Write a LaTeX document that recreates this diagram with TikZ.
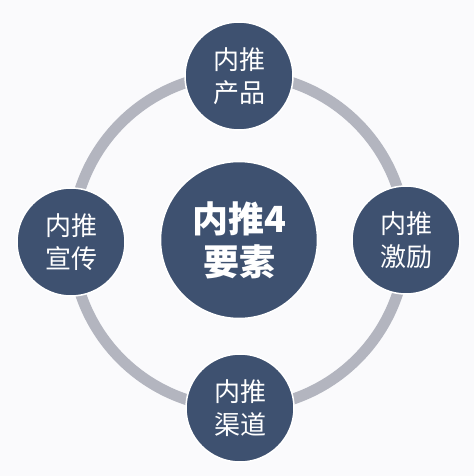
\documentclass[tikz,border=0pt]{standalone}
\usepackage{fontspec}
\newfontfamily\cjk{Noto Sans CJK SC}
\definecolor{bgcol}{HTML}{FAFAFC}
\definecolor{ringcol}{HTML}{B3B5BF}
\definecolor{navy}{HTML}{3E5170}
\tikzset{
	hub/.style={circle, fill=navy, draw=white, line width=1.5pt, minimum size=157pt, inner sep=0pt, align=center, text=white, font=\cjk\bfseries\fontsize{36}{43}\selectfont},
	spoke/.style={circle, fill=navy, draw=white, line width=1.5pt, minimum size=108pt, inner sep=0pt, align=center, text=white, font=\cjk\fontsize{26}{33}\selectfont}
}
\begin{document}
\begin{tikzpicture}[x=1pt, y=-1pt]
		%%%%% START %%%%%
		
		\fill[bgcol] (0, 0) rectangle (474, 476);
		\useasboundingbox (0, 0) rectangle (474, 476);
		
		\draw[ringcol, line width=11pt] (239, 241) circle (167);
		
		\node[hub] (core) at (239, 240) {内推4\\要素};
		
		\node[spoke] (product) at (239, 76) {内推\\产品};
		\node[spoke] (promo) at (71, 242) {内推\\宣传};
		\node[spoke] (reward) at (406, 240) {内推\\激励};
		\node[spoke] (channel) at (240, 408) {内推\\渠道};
		
		%%%%% END %%%%%
	\end{tikzpicture}
\end{document}
